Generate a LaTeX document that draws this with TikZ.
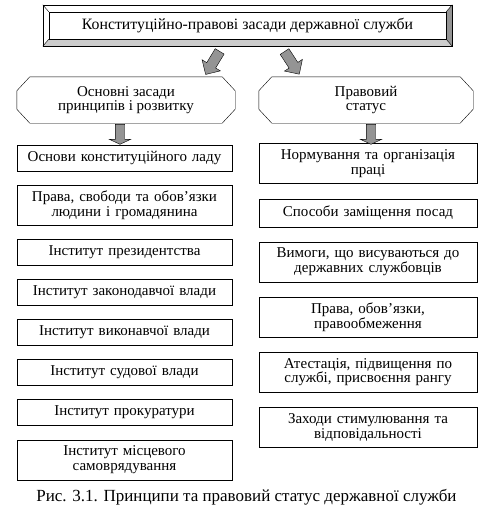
\documentclass[tikz,border=0pt]{standalone}
\usepackage{fontspec}
\setmainfont{Liberation Serif}
\usetikzlibrary{positioning,shapes.arrows,calc}

\begin{document}
\begin{tikzpicture}[
x=1pt,y=-1pt,
box/.style={
  draw,
  align=center,
  font=\fontsize{15}{14.5}\selectfont,
  inner xsep=4pt,
  inner ysep=3pt
  },
lbox/.style={
  box,
  text width=207pt,
  minimum height=26pt
  },
rbox/.style={
  box,
  text width=210pt,
  minimum height=28pt
  },
two/.style={
  minimum height=40pt
  },
headbox/.style={
  align=center,
  font=\fontsize{15}{14.5}\selectfont,
  inner sep=0pt,
  minimum height=46pt
  },
bigarrow/.style={
  single arrow,
  draw,
  fill=black!42,
  inner sep=5pt,
  minimum height=27pt,
  single arrow head extend=5.5pt
  },
smallarrow/.style={
  single arrow,
  draw,
  fill=black!42,
  inner xsep=0pt,
  inner ysep=4.5pt,
  minimum height=20pt,
  single arrow head extend=6pt,
  single arrow tip angle=130,
  rotate=-90
  }
]
\useasboundingbox (0,0) rectangle (486,515);

\node[draw, minimum width=397pt, minimum height=27pt, inner sep=0pt,
  font=\fontsize{15.8}{15.8}\selectfont] (title) at (247.5,25.5)
  {Конституційно-правові засади державної служби};
\coordinate (tnw) at ($(title.north west)+(-6,-7)$);
\coordinate (tne) at ($(title.north east)+(6,-7)$);
\coordinate (tse) at ($(title.south east)+(6,7)$);
\coordinate (tsw) at ($(title.south west)+(-6,7)$);
\fill[black!20] (title.south west) -- (title.south east) -- (tse) -- (tsw) -- cycle;
\fill[black!42] (title.south east) -- (title.north east) -- (tne) -- (tse) -- cycle;
\draw (tnw) rectangle (tse);
\draw (tnw) -- (title.north west) (tne) -- (title.north east)
  (tse) -- (title.south east) (tsw) -- (title.south west);
\draw (title.north west) rectangle (title.south east);

\node[headbox, minimum width=218pt] (lhead) at (126,100) {Основні засади\\принципів і розвитку};
\node[headbox, minimum width=214pt] (rhead) at (366,100) {Правовий\\статус};
\foreach \h in {lhead,rhead}
  \draw ($(\h.north west)+(13,0)$) -- ($(\h.north east)+(-13,0)$)
    -- ($(\h.north east)+(0,14)$) -- ($(\h.south east)+(0,-14)$)
    -- ($(\h.south east)+(-13,0)$) -- ($(\h.south west)+(13,0)$)
    -- ($(\h.south west)+(0,-14)$) -- ($(\h.north west)+(0,14)$) -- cycle;

\node[bigarrow, rotate=-121.3] (la) at ($(title.south)+(-33.5,21.5)$) {};
\node[bigarrow, rotate=-56.9] (ra) at ($(title.south)+(43,21.5)$) {};

\node[lbox] (l1) at (124.5,158) {Основи конституційного ладу};
\node[lbox, two, below=13.7pt of l1] (l2) {Права, свободи та обов’язки\\людини і громадянина};
\node[lbox, below=13.7pt of l2] (l3) {Інститут президентства};
\node[lbox, below=13.7pt of l3] (l4) {Інститут законодавчої влади};
\node[lbox, below=13.7pt of l4] (l5) {Інститут виконавчої влади};
\node[lbox, below=13.7pt of l5] (l6) {Інститут судової влади};
\node[lbox, below=13.7pt of l6] (l7) {Інститут прокуратури};
\node[lbox, two, below=13.7pt of l7] (l8) {Інститут місцевого\\самоврядування};

\node[rbox, two] (r1) at (368,163.5) {Нормування та організація\\праці};
\node[rbox, below=14.8pt of r1] (r2) {Способи заміщення посад};
\node[rbox, two, below=14.8pt of r2] (r3) {Вимоги, що висуваються до\\державних службовців};
\node[rbox, two, below=14.8pt of r3] (r4) {Права, обов’язки,\\правообмеження};
\node[rbox, two, below=14.8pt of r4] (r5) {Атестація, підвищення по\\службі, присвоєння рангу};
\node[rbox, two, below=14.8pt of r5] (r6) {Заходи стимулювання та\\відповідальності};

\node[smallarrow] (ls) at ($(lhead.south)+(-6,10)$) {};
\node[smallarrow] (rs) at ($(rhead.south)+(5,10)$) {};

\node[font=\fontsize{17}{17}\selectfont] (cap) at (246.5,497)
  {Рис. 3.1. Принципи та правовий статус державної служби};
\end{tikzpicture}
\end{document}
